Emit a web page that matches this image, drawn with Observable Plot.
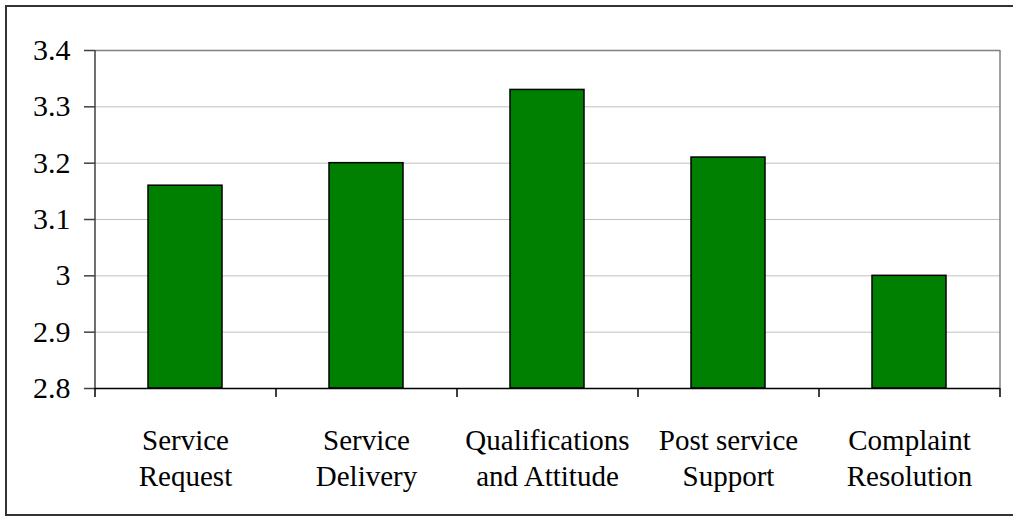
<!DOCTYPE html>
<html>
<head>
<meta charset="utf-8">
<script src="https://cdn.jsdelivr.net/npm/d3@7"></script>
<script src="https://cdn.jsdelivr.net/npm/@observablehq/plot@0.6"></script>
<style>
  body { margin: 0; }
  #chart { position: relative; width: 1013px; height: 517px; overflow: hidden; }
  .outline { position: absolute; left: 5px; top: 5px; width: 1012px; height: 511px;
             border: 2px solid #333; box-sizing: border-box; pointer-events: none; }
</style>
</head>
<body>
<div id="chart"></div>
<script>
// Mean satisfaction score per service aspect
const categories = [
  "Service\nRequest",
  "Service\nDelivery",
  "Qualifications\nand Attitude",
  "Post service\nSupport",
  "Complaint\nResolution"
];
const scores = [3.16, 3.20, 3.33, 3.21, 3.00];
const yTicks = [2.8, 2.9, 3.0, 3.1, 3.2, 3.3, 3.4];
const yTickLabels = ["2.8", "2.9", "3", "3.1", "3.2", "3.3", "3.4"];

const data = categories.map((c, i) => ({category: c, score: scores[i]}));
const yMin = yTicks[0], yMax = yTicks[yTicks.length - 1];

const width = 1013, height = 517;
const marginLeft = 95, marginRight = 13, marginTop = 50, marginBottom = 129;
const halfStep = (width - marginLeft - marginRight) / categories.length / 2;
const serif = "Liberation Serif";

const chart = Plot.plot({
  width, height, marginLeft, marginRight, marginTop, marginBottom,
  x: {domain: categories, paddingInner: 0.59, paddingOuter: 0.295, axis: null, label: null},
  y: {domain: [yMin, yMax], axis: null, label: null},
  marks: [
    // horizontal gridlines
    Plot.ruleY(yTicks.slice(1, -1), {stroke: "#c0c0c0", strokeWidth: 1}),
    Plot.ruleY([yMax], {stroke: "#808080", strokeWidth: 1.5}),
    // right border of the plot area
    Plot.ruleX([categories[categories.length - 1]], {dx: halfStep, y1: yMin, y2: yMax, stroke: "#808080", strokeWidth: 1.5}),
    // bars
    Plot.barY(data, {x: "category", y1: yMin, y2: "score", fill: "#008000", stroke: "#000", strokeWidth: 1.5}),
    // y axis line, ticks and labels
    Plot.ruleX([categories[0]], {dx: -halfStep, y1: yMin, y2: yMax, stroke: "#404040", strokeWidth: 1.5}),
    Plot.axisY({
      ticks: yTicks, tickSize: 11, tickPadding: 14, label: null,
      tickFormat: (d) => yTickLabels[yTicks.indexOf(d)],
      stroke: "#404040", strokeWidth: 1.5, fontSize: 30, fontFamily: serif, fill: "#000"
    }),
    // x axis line and ticks at category boundaries
    Plot.ruleY([yMin], {stroke: "#000", strokeWidth: 1.5}),
    Plot.axisX({tickSize: 9, tickFormat: () => "", label: null, dx: -halfStep, stroke: "#000", strokeWidth: 1.5}),
    Plot.axisX({ticks: [categories[categories.length - 1]], tickSize: 9, tickFormat: () => "", label: null, dx: halfStep, stroke: "#000", strokeWidth: 1.5}),
    // category labels
    Plot.text(categories, {
      x: (d) => d, y: yMin, text: (d) => d,
      lineAnchor: "top", dy: 36, lineHeight: 1.24,
      fontSize: 29, fontFamily: serif, fill: "#000"
    })
  ]
});

const holder = document.getElementById("chart");
holder.append(chart);
const outline = document.createElement("div");
outline.className = "outline";
holder.append(outline);
</script>
</body>
</html>
